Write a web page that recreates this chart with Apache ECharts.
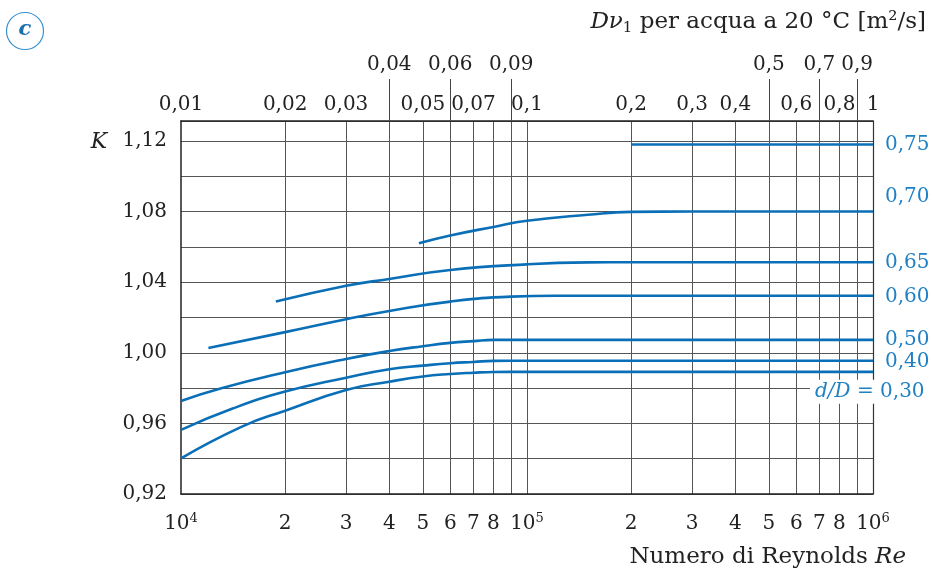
<!DOCTYPE html>
<html><head><meta charset="utf-8">
<script src="https://cdn.jsdelivr.net/npm/echarts@6/dist/echarts.min.js"></script>
<style>html,body{margin:0;padding:0;background:#fff}#c{width:934px;height:572px}</style>
</head><body><div id="c"></div>
<script>
// ---- data ----
const reGridValues = [2e4,3e4,4e4,5e4,6e4,7e4,8e4,9e4,1e5,2e5,3e5,4e5,5e5,6e5,7e5,8e5,9e5,1e6];
const reLabelValues = [1e4,2e4,3e4,4e4,5e4,6e4,7e4,8e4,1e5,2e5,3e5,4e5,5e5,6e5,7e5,8e5,1e6];
const dvLowerLabels = [0.01,0.02,0.03,0.05,0.07,0.1,0.2,0.3,0.4,0.6,0.8,1];
const dvUpperLabels = [0.04,0.06,0.09,0.5,0.7,0.9];
const kLabelValues = [0.92,0.96,1.00,1.04,1.08,1.12];
const curveNames = ['0,75','0,70','0,65','0,60','0,50','0,40','0,30'];
const dD075 = [[2e5,1.118],[1e6,1.118]];
const dD070 = [[4.87e4,1.062],[6e4,1.0664],[8e4,1.0713],[1e5,1.0748],[1.5e5,1.0782],[2e5,1.0798],[3e5,1.08],[1e6,1.08]];
const dD065 = [[1.88e4,1.029],[3e4,1.038],[4e4,1.0418],[6e4,1.0469],[1e5,1.0501],[1.5e5,1.0512],[2e5,1.0513],[1e6,1.0513]];
const dD060 = [[1.2e4,1.0027],[2e4,1.0117],[3e4,1.019],[4e4,1.0237],[6e4,1.029],[9e4,1.0318],[1.2e5,1.0323],[1e6,1.0323]];
const dD050 = [[1e4,0.9727],[1.3e4,0.9798],[2e4,0.989],[3e4,0.9965],[4e4,1.001],[5e4,1.0037],[6e4,1.0056],[7e4,1.0066],[8e4,1.0073],[1e5,1.0073],[1e6,1.0073]];
const dD040 = [[1e4,0.9563],[1.41e4,0.9684],[2e4,0.978],[3e4,0.9859],[4e4,0.9907],[5e4,0.9927],[6e4,0.9941],[7e4,0.9948],[8e4,0.9954],[1e5,0.9955],[1e6,0.9955]];
const dD030 = [[1e4,0.9402],[1.5e4,0.9582],[2e4,0.9672],[3e4,0.9789],[4e4,0.9836],[5e4,0.9866],[6e4,0.988],[7e4,0.9887],[8e4,0.9891],[1e5,0.9892],[1e6,0.9892]];
const curves = [dD075,dD070,dD065,dD060,dD050,dD040,dD030];

// ---- style ----
const FONT = 'DejaVu Serif';
const TXT = '#222';
const LINE = '#0a6fb7';
const LBL = '#1f80c4';
const GRIDC = '#555';
const labelOffsets = [[0,0],[0,-15],[0,1],[0,1],[0,0],[0,1],[-75,20]];

const comma = v => String(Number(Number(v).toPrecision(6))).replace('.', ',');
const reFmt = v => {
  const e = Math.log10(v);
  if (Math.abs(e - Math.round(e)) < 1e-6) return '{n|10}{s|' + Math.round(e) + '}';
  return String(Math.round(v / Math.pow(10, Math.floor(e + 1e-9))));
};

const series = curves.map((d, i) => {
  const last = d[d.length - 1];
  const isLast = i === curves.length - 1;
  return {
    type: 'line', name: curveNames[i], data: d, xAxisIndex: 0, yAxisIndex: 0,
    showSymbol: false, symbol: 'none', smooth: 0.5,
    lineStyle: {color: LINE, width: 2.6}, silent: true, z: 3,
    markPoint: {
      symbol: 'circle', symbolSize: 0, silent: true, animation: false,
      itemStyle: {color: 'transparent'},
      label: {
        show: true, position: 'right', distance: 12, offset: labelOffsets[i],
        fontFamily: FONT, fontSize: 20, color: LBL,
        backgroundColor: isLast ? '#fff' : 'transparent',
        padding: isLast ? [2, 5, 2, 5] : 0,
        formatter: isLast ? '{i|d/D}{n| = ' + curveNames[i] + '}' : curveNames[i],
        rich: {
          i: {fontFamily: FONT, fontStyle: 'italic', fontSize: 20, color: LBL},
          n: {fontFamily: FONT, fontSize: 20, color: LBL}
        }
      },
      data: [{coord: last}]
    }
  };
});

const chart = echarts.init(document.getElementById('c'), null, {renderer: 'canvas'});
chart.setOption({
  animation: false,
  backgroundColor: '#fff',
  grid: {left: 181, right: 61, top: 121, bottom: 78, containLabel: false},
  xAxis: [
    {
      type: 'log', logBase: 10, min: 1e4, max: 1e6, position: 'bottom',
      axisLine: {show: true, lineStyle: {color: '#222', width: 1.5}},
      axisTick: {show: false, customValues: reGridValues},
      splitLine: {show: true, lineStyle: {color: GRIDC, width: 1}},
      minorTick: {show: false}, minorSplitLine: {show: false},
      axisLabel: {
        customValues: reLabelValues, margin: 18, formatter: reFmt,
        fontFamily: FONT, fontSize: 20, lineHeight: 24, color: TXT,
        rich: {
          n: {fontFamily: FONT, fontSize: 20, lineHeight: 24, color: TXT},
          s: {fontFamily: FONT, fontSize: 13, lineHeight: 16, verticalAlign: 'top', color: TXT}
        }
      }
    },
    {
      type: 'log', logBase: 10, min: 0.01, max: 1, position: 'top',
      axisLine: {show: true, lineStyle: {color: '#222', width: 1.5}},
      axisTick: {show: false},
      splitLine: {show: false},
      axisLabel: {customValues: dvLowerLabels, margin: 4, formatter: comma,
        fontFamily: FONT, fontSize: 20, lineHeight: 24, color: TXT}
    },
    {
      type: 'log', logBase: 10, min: 0.01, max: 1, position: 'top',
      axisLine: {show: false},
      axisTick: {show: true, customValues: dvUpperLabels, length: 42, lineStyle: {color: '#444', width: 1}},
      splitLine: {show: false},
      axisLabel: {customValues: dvUpperLabels, margin: 44, formatter: comma,
        fontFamily: FONT, fontSize: 20, lineHeight: 24, color: TXT}
    }
  ],
  yAxis: [
    {
      type: 'value', min: 0.92, max: 1.1313, interval: 0.02,
      axisLine: {show: true, lineStyle: {color: '#222', width: 1.5}},
      axisTick: {show: false},
      splitLine: {show: true, lineStyle: {color: GRIDC, width: 1}},
      axisLabel: {customValues: kLabelValues, margin: 14, formatter: v => v.toFixed(2).replace('.', ','),
        fontFamily: FONT, fontSize: 20, color: TXT}
    },
    {
      type: 'value', min: 0.92, max: 1.1313, position: 'right',
      axisLine: {show: true, onZero: false, lineStyle: {color: '#333', width: 1.2}},
      axisTick: {show: false}, axisLabel: {show: false}, splitLine: {show: false}
    }
  ],
  graphic: [
    {type: 'circle', shape: {cx: 25, cy: 31, r: 18.5}, style: {fill: 'none', stroke: '#3a90cc', lineWidth: 1.2}},
    {type: 'text', x: 25, y: 30, style: {text: 'c', fontFamily: FONT, fontStyle: 'italic', fontWeight: 'bold', fontSize: 21, fill: '#1a6faf', align: 'center', verticalAlign: 'middle'}},
    {type: 'text', x: 99, y: 142, style: {text: 'K', fontFamily: FONT, fontStyle: 'italic', fontSize: 22, fill: TXT, align: 'center', verticalAlign: 'middle'}},
    {type: 'text', x: 926, y: 22, style: {
      text: '{i|Dν}{s|1}{t| per acqua a 20 °C [m²/s]}', align: 'right', verticalAlign: 'middle',
      rich: {
        i: {fontFamily: FONT, fontStyle: 'italic', fontSize: 23, lineHeight: 28, fill: TXT},
        s: {fontFamily: FONT, fontSize: 15, lineHeight: 18, verticalAlign: 'bottom', fill: TXT},
        t: {fontFamily: FONT, fontSize: 23, lineHeight: 28, fill: TXT}
      }}},
    {type: 'text', x: 906, y: 557, style: {
      text: '{t|Numero di Reynolds }{i|Re}', align: 'right', verticalAlign: 'middle',
      rich: {
        t: {fontFamily: FONT, fontSize: 23, fill: TXT},
        i: {fontFamily: FONT, fontStyle: 'italic', fontSize: 23, fill: TXT}
      }}}
  ],
  series: series
});
</script></body></html>
